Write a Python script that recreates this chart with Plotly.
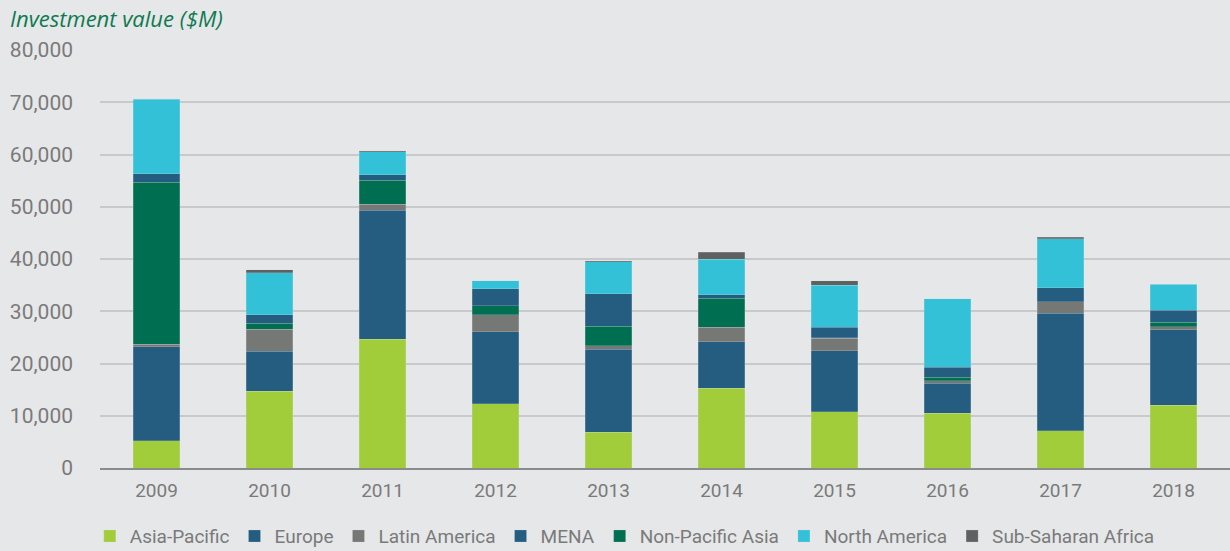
import plotly.graph_objects as go

years = ['2009', '2010', '2011', '2012', '2013', '2014', '2015', '2016', '2017', '2018']

# stacking order, bottom to top
regions = ['Asia-Pacific', 'Europe', 'Latin America', 'Non-Pacific Asia',
           'MENA', 'North America', 'Sub-Saharan Africa']
# legend order
legend_order = ['Asia-Pacific', 'Europe', 'Latin America', 'MENA',
                'Non-Pacific Asia', 'North America', 'Sub-Saharan Africa']

# investment value by region ($M)
asia_pacific = [5200, 14700, 24650, 12330, 6840, 15260, 10730, 10470, 7090, 12010]
europe = [18000, 7600, 24700, 13790, 15900, 8940, 11740, 5750, 22540, 14430]
latin_america = [500, 4300, 1150, 3190, 630, 2750, 2370, 500, 2170, 570]
non_pacific_asia = [31000, 1150, 4600, 1720, 3780, 5550, 100, 650, 0, 900]
mena = [1600, 1600, 1000, 3260, 6180, 640, 1980, 1910, 2740, 2300]
north_america = [14300, 8050, 4400, 1530, 6150, 6840, 8050, 13150, 9330, 4980]
sub_saharan_africa = [100, 500, 250, 0, 200, 1340, 830, 0, 250, 0]

series = [asia_pacific, europe, latin_america, non_pacific_asia,
          mena, north_america, sub_saharan_africa]
colors = ['#a2cd3a', '#245d80', '#767876', '#006f51',
          '#245d80', '#33c1d8', '#5f6060']

y_ticks = [0, 10000, 20000, 30000, 40000, 50000, 60000, 70000, 80000]

fig = go.Figure()

for n, values in enumerate(series):
    fig.add_trace(go.Bar(
        x=years,
        y=values,
        name=regions[n],
        legendrank=legend_order.index(regions[n]) + 1,
        marker=dict(color=colors[n], line=dict(color='rgba(215,222,228,0.45)', width=0.5)),
    ))

fig.update_layout(
    barmode='stack',
    bargap=0.59,
    width=1230,
    height=551,
    paper_bgcolor='#e6e7e9',
    plot_bgcolor='#e6e7e9',
    margin=dict(l=100, r=0, t=50, b=83),
    font=dict(family='Roboto', color='#7a7a7a', size=19),
    xaxis=dict(
        showline=True,
        linecolor='#8a8b8d',
        linewidth=2,
        ticks='',
        tickfont=dict(size=19),
        ticklabelstandoff=4,
    ),
    yaxis=dict(
        range=[0, 80000],
        tickvals=y_ticks,
        tickformat=',d',
        showgrid=True,
        gridcolor='#c8c9cb',
        gridwidth=1.5,
        zeroline=False,
        ticklabelstandoff=26,
        tickfont=dict(size=21),
    ),
    legend=dict(
        orientation='h',
        xref='container',
        yref='container',
        xanchor='left',
        x=0.073,
        yanchor='middle',
        y=0.027,
        traceorder='normal',
        font=dict(size=19),
        itemwidth=30,
    ),
    annotations=[dict(
        text='<i>Investment value ($M)</i>',
        xref='paper', yref='paper',
        x=-0.0814, y=1.0766,
        xanchor='left', yanchor='middle',
        showarrow=False,
        font=dict(family='Open Sans', size=22, color='#0f7a50'),
    )],
)

# page body has a default 8px margin; remove it so the chart fills the window
fig.write_html("out.html", config={'displayModeBar': False},
               post_script="document.body.style.margin='0';")
